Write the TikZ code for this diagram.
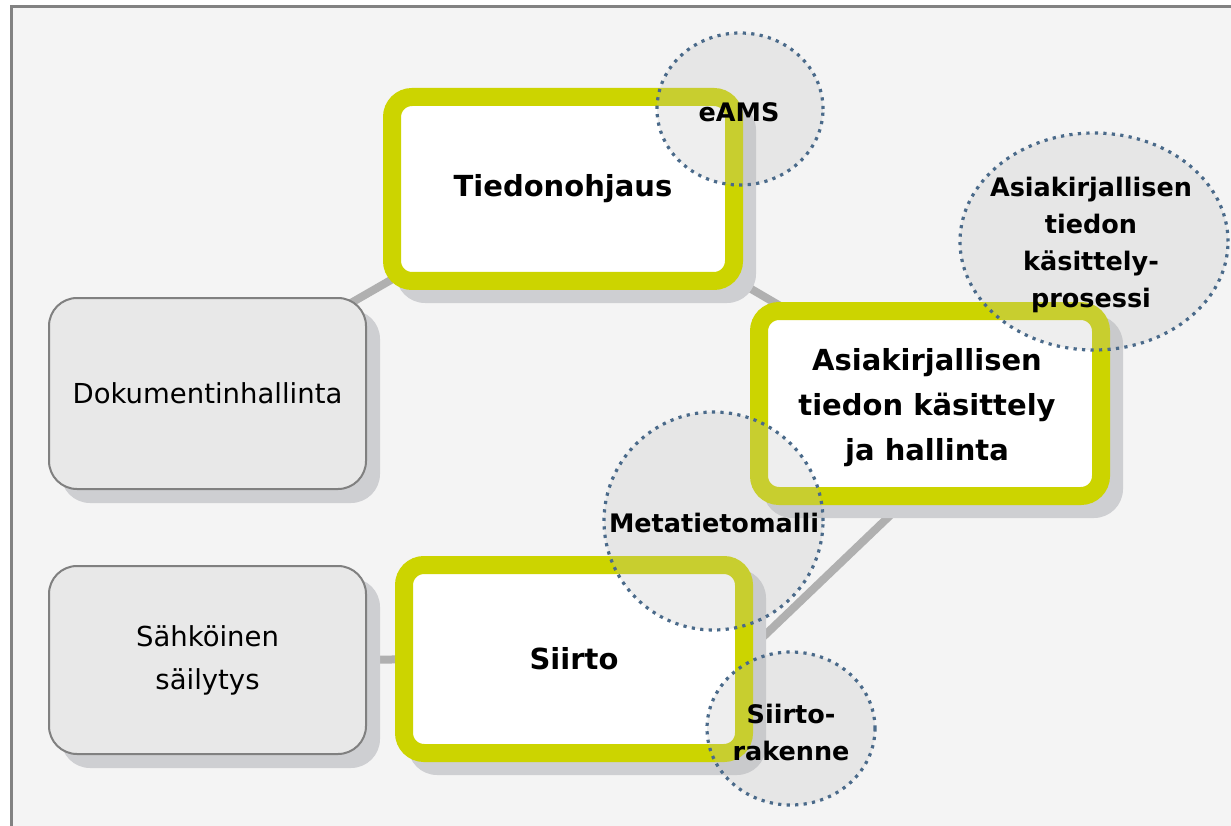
\documentclass[tikz,border=0pt]{standalone}
\usepackage{fontspec}
\setmainfont{DejaVu Sans}
\usetikzlibrary{calc,shapes.geometric}
\definecolor{bgc}{RGB}{244,244,244}
\definecolor{framec}{RGB}{130,130,130}
\definecolor{yel}{RGB}{204,212,0}
\definecolor{shdc}{RGB}{206,207,210}
\definecolor{boxg}{RGB}{232,232,232}
\definecolor{boxline}{RGB}{128,128,128}
\definecolor{conn}{RGB}{176,176,176}
\definecolor{dotc}{RGB}{74,106,138}
\definecolor{circf}{RGB}{190,190,190}
\pgfdeclarelayer{back}
\pgfdeclarelayer{bg}
\pgfdeclarelayer{shdl}
\pgfsetlayers{back,bg,shdl,main}
\begin{document}
\begin{tikzpicture}[x=1pt,y=-1pt,
  ybox/.style={draw=yel, line width=18pt, fill=white, rounded corners=20pt,
    align=center, inner sep=0pt, font=\bfseries\fontsize{29}{45}\selectfont},
  gbox/.style={draw=boxline, line width=2pt, fill=boxg, rounded corners=28pt,
    align=center, inner sep=0pt, font=\fontsize{27.5}{43}\selectfont},
  bubble/.style={ellipse, draw=dotc, line width=3.2pt, dash pattern=on 3.2pt off 5.3pt,
    fill=circf, fill opacity=0.25, draw opacity=1, inner sep=0pt},
  bubbletext/.style={align=center, inner sep=0pt, font=\bfseries\fontsize{25.5}{37}\selectfont},
  connector/.style={draw=conn, line width=8pt},
  shadowfill/.style={fill=shdc, rounded corners=29pt}
]
\useasboundingbox (0,0) rectangle (1231,826);
\begin{pgfonlayer}{back}
\fill[white] (0,0) rectangle (1231,826);
\fill[bgc] (11,6) rectangle (1231,826);
\draw[framec, line width=3pt] (11.5,826) -- (11.5,6.5) -- (1231,6.5);
\end{pgfonlayer}

% boxes
\node[ybox, minimum width=342pt, minimum height=184pt] (tied) at (563,189) {Tiedonohjaus};
\node[ybox, minimum width=342pt, minimum height=185pt] (asia) at (930,403.5) {};
\node[ybox, draw=none, fill=none, align=center] (asiat) at (927,408)
  {Asiakirjallisen\\tiedon käsittely\\ja hallinta};
\node[ybox, minimum width=340pt, minimum height=188pt] (siirto) at (574,659) {Siirto};
\node[gbox, minimum width=317pt, minimum height=191pt] (dok) at (207.5,393.5) {Dokumentinhallinta};
\node[gbox, minimum width=317pt, minimum height=188pt] (sah) at (207.5,660) {Sähköinen\\säilytys};

% shadows
\begin{pgfonlayer}{shdl}
  \foreach \n in {tied,asia,siirto,dok,sah}
    \fill[shadowfill] ($(\n.north west)+(13,13)$) rectangle ($(\n.south east)+(13,13)$);
\end{pgfonlayer}

% connectors
\begin{pgfonlayer}{bg}
  \draw[connector] ($(dok)+(0,-8)$) -- ($(tied)+(0,-8)$);
  \draw[connector] ($(tied)+(0,-10)$) -- ($(asia)+(0,-10)$);
  \draw[connector] (sah) -- (siirto);
  \draw[connector] ($(siirto.east)+(-13,0)$) -- ($(asia.south)+(-29,0)$);
\end{pgfonlayer}

% bubbles
\node[bubble, minimum width=166pt, minimum height=152pt] (eams) at (740,109) {};
\node[bubbletext] (eamst) at (739,112) {eAMS};
\node[bubble, minimum width=268pt, minimum height=217pt] (proc) at (1094,241.5) {};
\node[bubbletext] (proct) at (1091,245) {Asiakirjallisen\\tiedon\\käsittely-\\prosessi};
\node[bubble, minimum width=219pt, minimum height=218pt] (meta) at (713.5,521) {};
\node[bubbletext] (metat) at (714,523) {Metatietomalli};
\node[bubble, minimum width=168pt, minimum height=153pt] (rak) at (791,728.5) {};
\node[bubbletext] (rakt) at (791,732) {Siirto-\\rakenne};
\end{tikzpicture}
\end{document}
